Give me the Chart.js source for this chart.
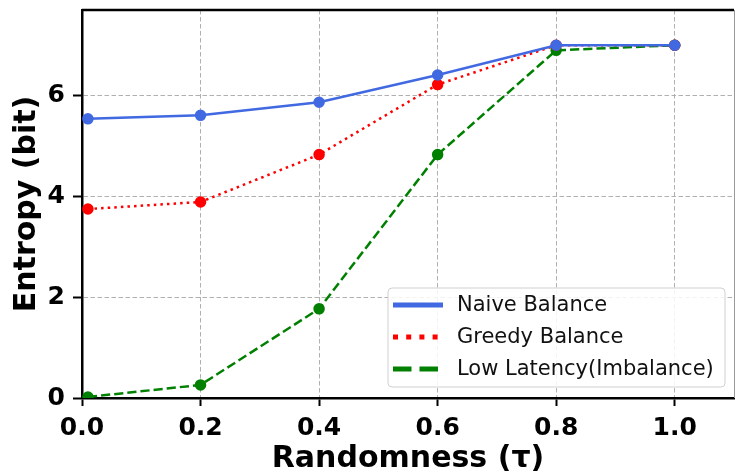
<!DOCTYPE html>
<html>
<head>
<meta charset="utf-8">
<script src="https://cdn.jsdelivr.net/npm/chart.js@4.4.0/dist/chart.umd.min.js"></script>
<style>
  html, body { margin: 0; padding: 0; background: #fff; }
  #wrap { width: 735px; height: 474px; }
</style>
</head>
<body>
<div id="wrap"><canvas id="grafico"></canvas></div>
<script>
// valores
var randomness = [0.01, 0.2, 0.4, 0.6, 0.8, 1.0];
var naiveBalance = [5.54, 5.61, 5.87, 6.41, 7.0, 7.0];
var greedyBalance = [3.75, 3.89, 4.83, 6.22, 7.0, 7.0];
var lowLatency = [0.02, 0.26, 1.77, 4.83, 6.9, 7.0];
var nomes = ['Naive Balance', 'Greedy Balance', 'Low Latency(Imbalance)'];

function pontos(valores) {
    var lista = [];
    for (var i = 0; i < randomness.length; i++) {
        lista.push({ x: randomness[i], y: valores[i] });
    }
    return lista;
}

// legenda desenhada dentro da area do grafico
var legendaPlugin = {
    id: 'legendaInterna',
    afterDraw: function(chart) {
        var ctx = chart.ctx;
        var area = chart.chartArea;
        var x0 = 388, y0 = 288, w = 337, h = 99;
        ctx.save();
        ctx.beginPath();
        ctx.roundRect(x0, y0, w, h, 4);
        ctx.fillStyle = 'rgba(255,255,255,0.85)';
        ctx.fill();
        ctx.strokeStyle = '#d0d0d0';
        ctx.lineWidth = 1;
        ctx.stroke();
        var estilos = [[], [5, 8.2], [18.5, 8]];
        chart.data.datasets.forEach(function(ds, i) {
            var y = 305 + i * 32;
            ctx.beginPath();
            ctx.setLineDash(estilos[i]);
            ctx.lineWidth = 5;
            ctx.lineCap = 'butt';
            ctx.strokeStyle = ds.borderColor;
            ctx.moveTo(393, y);
            ctx.lineTo(443, y);
            ctx.stroke();
            ctx.setLineDash([]);
            ctx.fillStyle = '#111';
            ctx.font = '21px "DejaVu Sans"';
            ctx.textBaseline = 'middle';
            ctx.fillText(ds.label, 457, y + 1);
        });
        // moldura de cima e da direita
        ctx.beginPath();
        ctx.strokeStyle = '#000';
        ctx.lineWidth = 2.5;
        ctx.moveTo(area.left, area.top);
        ctx.lineTo(area.right, area.top);
        ctx.stroke();
        ctx.beginPath();
        ctx.strokeStyle = '#999';
        ctx.lineWidth = 1;
        ctx.moveTo(area.right + 0.5, area.top);
        ctx.lineTo(area.right + 0.5, area.bottom);
        ctx.stroke();
        ctx.restore();
    }
};

var contexto = document.getElementById('grafico').getContext('2d');
var grafico = new Chart(contexto, {
    type: 'line',
    data: {
        datasets: [{
            label: nomes[0],
            data: pontos(naiveBalance),
            borderColor: '#4169E1',
            backgroundColor: '#4169E1',
            borderWidth: 2.5,
            pointRadius: 4.5,
            pointHoverRadius: 4.5
        }, {
            label: nomes[1],
            data: pontos(greedyBalance),
            borderColor: '#ff0000',
            backgroundColor: '#ff0000',
            borderWidth: 2.5,
            borderDash: [2.5, 4.1],
            pointRadius: 4.5,
            pointHoverRadius: 4.5
        }, {
            label: nomes[2],
            data: pontos(lowLatency),
            borderColor: '#008000',
            backgroundColor: '#008000',
            borderWidth: 2.5,
            borderDash: [9.2, 4],
            pointRadius: 4.5,
            pointHoverRadius: 4.5
        }]
    },
    options: {
        responsive: true,
        maintainAspectRatio: false,
        animation: false,
        layout: { autoPadding: false, padding: { top: 10, right: 1, left: 0, bottom: 0 } },
        plugins: {
            legend: { display: false },
            tooltip: { enabled: false }
        },
        scales: {
            x: {
                type: 'linear',
                min: 0,
                max: 1.1,
                afterFit: function(scale) {
                    scale.height = 76;
                    scale.paddingLeft = 0;
                    scale.paddingRight = 0;
                },
                ticks: {
                    stepSize: 0.2,
                    includeBounds: false,
                    color: '#000',
                    padding: 7,
                    font: { family: 'DejaVu Sans', weight: 'bold', size: 25 },
                    callback: function(v) { return v.toFixed(1); }
                },
                grid: {
                    color: '#b0b0b0',
                    lineWidth: 1,
                    tickLength: 8,
                    tickColor: '#000',
                    tickWidth: 2,
                    tickBorderDash: []
                },
                border: { color: '#000', width: 2.5, dash: [4.5, 2.5] },
                title: {
                    display: true,
                    text: 'Randomness (τ)',
                    color: '#000',
                    padding: { top: 0, bottom: -3 },
                    font: { family: 'DejaVu Sans', weight: 'bold', size: 30 }
                }
            },
            y: {
                min: 0,
                max: 7.7,
                afterFit: function(scale) {
                    scale.width = 82;
                    scale.paddingTop = 0;
                    scale.paddingBottom = 0;
                },
                ticks: {
                    stepSize: 2,
                    includeBounds: false,
                    color: '#000',
                    padding: 8,
                    font: { family: 'DejaVu Sans', weight: 'bold', size: 25 }
                },
                grid: {
                    color: '#b0b0b0',
                    lineWidth: 1,
                    tickLength: 9,
                    tickColor: '#000',
                    tickWidth: 2,
                    tickBorderDash: []
                },
                border: { color: '#000', width: 2.5, dash: [4.5, 2.5] },
                title: {
                    display: true,
                    text: 'Entropy (bit)',
                    color: '#000',
                    padding: { top: 9, bottom: 0 },
                    font: { family: 'DejaVu Sans', weight: 'bold', size: 30 }
                }
            }
        }
    },
    plugins: [legendaPlugin]
});
</script>
</body>
</html>
